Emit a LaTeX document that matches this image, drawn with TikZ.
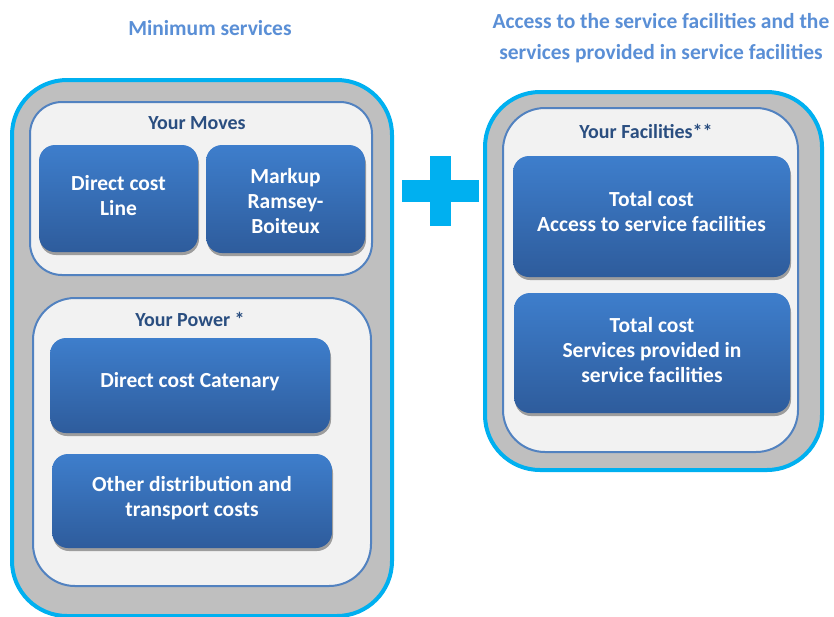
\documentclass[tikz,border=0pt]{standalone}
\usepackage{fontspec}
\setmainfont{Carlito}
\usetikzlibrary{shadows}
\definecolor{cyanb}{HTML}{00B0F0}
\definecolor{grayf}{HTML}{BFBFBF}
\definecolor{innerf}{HTML}{F2F2F2}
\definecolor{innerd}{HTML}{5282C0}
\definecolor{btop}{HTML}{3E7ECC}
\definecolor{bbot}{HTML}{2E5C9C}
\definecolor{titlec}{HTML}{2A4E80}
\definecolor{headc}{HTML}{5A8FD6}
\tikzset{
  outerbox/.style={draw=cyanb, line width=4pt, fill=grayf, rounded corners=55pt, inner sep=0pt},
  innerbox/.style={draw=innerd, line width=2pt, fill=innerf, inner sep=0pt},
  bluebox/.style={rounded corners=16pt, top color=btop, bottom color=bbot, draw=none, inner sep=0pt,
     drop shadow={shadow xshift=1pt, shadow yshift=-3pt, opacity=0.35, fill=black}},
  bluetext/.style={text=white, font=\fontsize{21.5}{25}\selectfont\bfseries, align=center},
  titletext/.style={text=titlec, font=\fontsize{20}{24}\selectfont\bfseries},
  headtext/.style={text=headc, font=\fontsize{21.5}{31}\selectfont\bfseries, align=center},
}
\begin{document}
\begin{tikzpicture}[x=1pt, y=-1pt]
\useasboundingbox (0,0) rectangle (834,616);
\fill[white] (0,0) rectangle (834,616);
% headers
\node[headtext] (h1) at (210,28) {Minimum services};
\node[headtext] (h2) at (661,38.5) {Access to the service facilities and the\\services provided in service facilities};
% left outer
\node[outerbox, minimum width=380pt, minimum height=536pt] (lo) at (202,348) {};
\node[innerbox, rounded corners=32pt, minimum width=342pt, minimum height=173pt] (moves) at (201,188.5) {};
\node[innerbox, rounded corners=42pt, minimum width=338pt, minimum height=288pt] (power) at (202,442) {};
\node[titletext] (tm) at (197,123) {Your Moves};
\node[titletext] (tp) at (190,319) {Your Power *};
\node[bluebox, minimum width=159pt, minimum height=107pt] (dcl) at (118.5,198.5) {};
\node[bluetext] (dclt) at (118.5,195.5) {Direct cost\\Line};
\node[bluebox, minimum width=159pt, minimum height=108pt] (mk) at (285.5,199) {};
\node[bluetext] (mkt) at (285.5,201) {Markup\\Ramsey-\\Boiteux};
\node[bluebox, minimum width=280pt, minimum height=95pt] (cat) at (190,385.5) {};
\node[bluetext] (catt) at (190,382) {Direct cost Catenary};
\node[bluebox, minimum width=280pt, minimum height=94pt] (oth) at (192,501) {};
\node[bluetext] (otht) at (192,498) {Other distribution and\\transport costs};
% plus
\fill[cyanb] (430,156) rectangle (451,226);
\fill[cyanb] (402,180) rectangle (479,202);
% right
\node[outerbox, minimum width=337pt, minimum height=378pt] (ro) at (653.5,281) {};
\node[innerbox, rounded corners=42pt, minimum width=295pt, minimum height=344pt] (fac) at (650.5,280) {};
\node[titletext] (tf) at (646,131) {Your Facilities**};
\node[bluebox, minimum width=277pt, minimum height=121pt] (f1) at (651.5,216.5) {};
\node[bluetext] (f1t) at (651.5,212) {Total cost\\Access to service facilities};
\node[bluebox, minimum width=276pt, minimum height=120pt] (f2) at (652,353) {};
\node[bluetext] (f2t) at (652,350) {Total cost\\Services provided in\\service facilities};
\end{tikzpicture}
\end{document}
